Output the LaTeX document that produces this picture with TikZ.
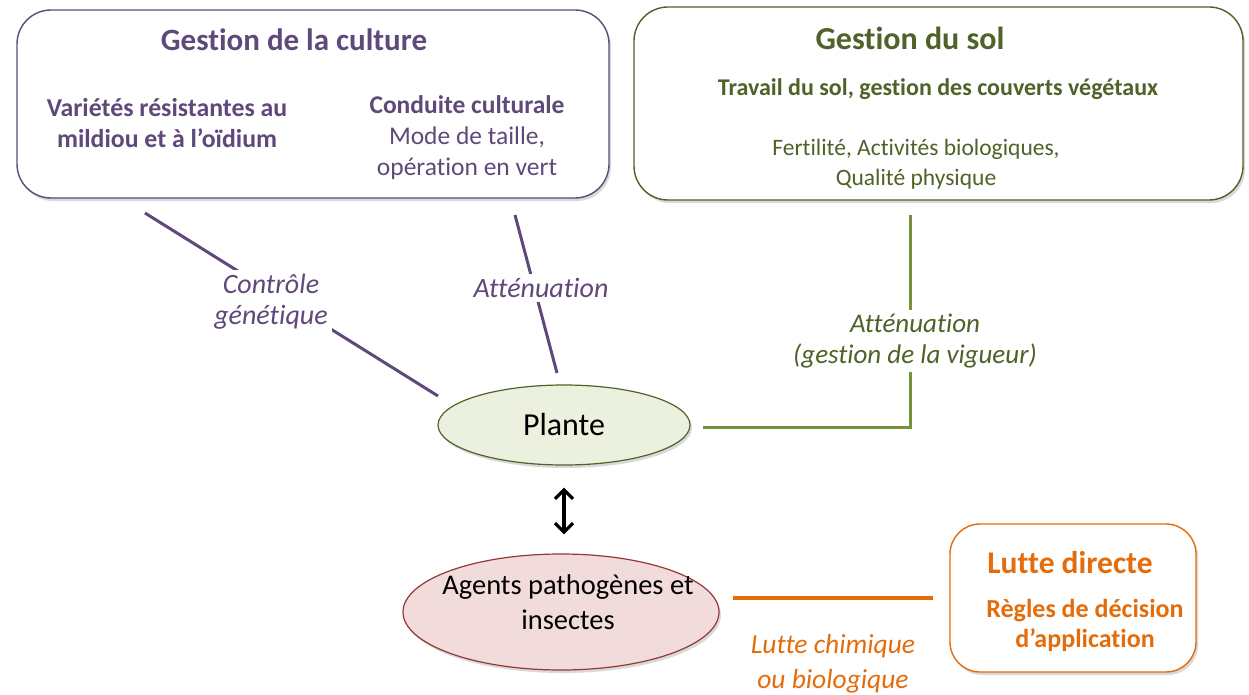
\documentclass[tikz,border=0pt]{standalone}
\usepackage{fontspec}
\setmainfont{Carlito}[Ligatures=NoCommon]
\usetikzlibrary{shadows,arrows.meta,shapes.geometric}
\definecolor{cultpurple}{HTML}{5F497A}
\definecolor{solgreen}{HTML}{4F6228}
\definecolor{sollight}{HTML}{76923C}
\definecolor{lutteorange}{HTML}{E46C0A}
\definecolor{plantefill}{HTML}{EBF1DE}
\definecolor{agentfill}{HTML}{F2DCDB}
\definecolor{agentdraw}{HTML}{953735}
\tikzset{
    soft-shadow/.style = {drop shadow={shadow xshift=2pt, shadow yshift=-3pt, opacity=0.25, fill=black!60}},
    theme-box/.style = {draw=#1, fill=white, line width=1.4pt, rectangle, rounded corners=34pt, soft-shadow},
    box-title/.style = {text=#1, font=\fontsize{31}{35}\selectfont\bfseries},
    box-text/.style = {text=#1, align=center, font=\fontsize{25.5}{31}\selectfont},
    link-label/.style = {text=#1, fill=white, align=center, inner sep=4pt, font=\fontsize{28}{31}\selectfont\itshape},
    link/.style = {draw=#1, line width=3pt},
}

\begin{document}
\begin{tikzpicture}[x=1pt, y=-1pt]
\useasboundingbox (0,0) rectangle (1249,695);

% boxes
\node [theme-box=cultpurple, minimum width=592pt, minimum height=188pt] (culture) at (313,104) {};
\node [box-title=cultpurple] (culture-title) at (294,40) {Gestion de la culture};
\node [box-text=cultpurple, font=\fontsize{25.8}{31}\selectfont\bfseries] (varietes) at (167,123) {Variétés résistantes au\\mildiou et à l’oïdium};
\node [box-text=cultpurple] (conduite) at (467,138) {\textbf{Conduite culturale}\\Mode de taille,\\opération en vert};

\node [theme-box=solgreen, minimum width=609pt, minimum height=193pt] (sol) at (938.5,103.5) {};
\node [box-title=solgreen, font=\fontsize{32}{37}\selectfont\bfseries] (sol-title) at (910,38) {Gestion du sol};
\node [box-text=solgreen, font=\fontsize{24}{30}\selectfont\bfseries] (travail) at (938,89) {Travail du sol, gestion des couverts végétaux};
\node [box-text=solgreen, font=\fontsize{23.5}{30}\selectfont] (fertilite) at (916,164) {Fertilité, Activités biologiques,\\Qualité physique};

\node [theme-box=lutteorange, minimum width=246pt, minimum height=148pt, rounded corners=30pt] (lutte) at (1073,598) {};
\node [box-title=lutteorange, font=\fontsize{31.5}{35}\selectfont\bfseries] (lutte-title) at (1070,563) {Lutte directe};
\node [box-text=lutteorange, font=\fontsize{26}{30}\selectfont\bfseries] (regles) at (1085,625) {Règles de décision\\d’application};

% ellipses
\node [ellipse, draw=solgreen, fill=plantefill, line width=1.2pt, minimum width=252pt, minimum height=80pt, inner sep=0pt, soft-shadow, font=\fontsize{32}{38}\selectfont] (plante) at (564,425) {Plante};
\node [ellipse, draw=agentdraw, fill=agentfill, line width=1.2pt, minimum width=316pt, minimum height=116pt, inner sep=0pt, soft-shadow] (agents) at (561,612) {};
\node [align=center, font=\fontsize{28.5}{35}\selectfont] (agents-text) at (568,602) {Agents pathogènes et\\insectes};

% links
\coordinate (genet-a) at (145,213);
\coordinate (genet-b) at (438,396);
\coordinate (attn-a) at (515,215);
\coordinate (attn-b) at (557,373);
\coordinate (vig-a) at (910,215);
\coordinate (vig-b) at (703,427);
\coordinate (chim-a) at (733,598);
\coordinate (chim-b) at (933,598);

\draw [link=cultpurple] (genet-a) -- (genet-b);
\draw [link=cultpurple] (attn-a) -- (attn-b);
\draw [link=sollight] (vig-a) |- (vig-b);
\draw [link=lutteorange, line width=3.5pt] (chim-a) -- (chim-b);
\draw [line width=3.2pt, {Straight Barb[length=9pt, width=18pt]}-{Straight Barb[length=9pt, width=18pt]}, shorten <=22pt, shorten >=19pt] (plante) -- (plante |- agents.north);

\node [link-label=cultpurple] (genet-label) at (271,302) {Contrôle\\génétique};
\node [link-label=cultpurple] (attn-label) at (541,288) {Atténuation};
\node [link-label=solgreen, font=\fontsize{27}{31}\selectfont\itshape] (vig-label) at (915,341) {Atténuation\\(gestion de la vigueur)};
\node [link-label=lutteorange, fill=none, font=\fontsize{27.5}{35}\selectfont\itshape] (chim-label) at (833,664) {Lutte chimique\\ou biologique};
\end{tikzpicture}
\end{document}
